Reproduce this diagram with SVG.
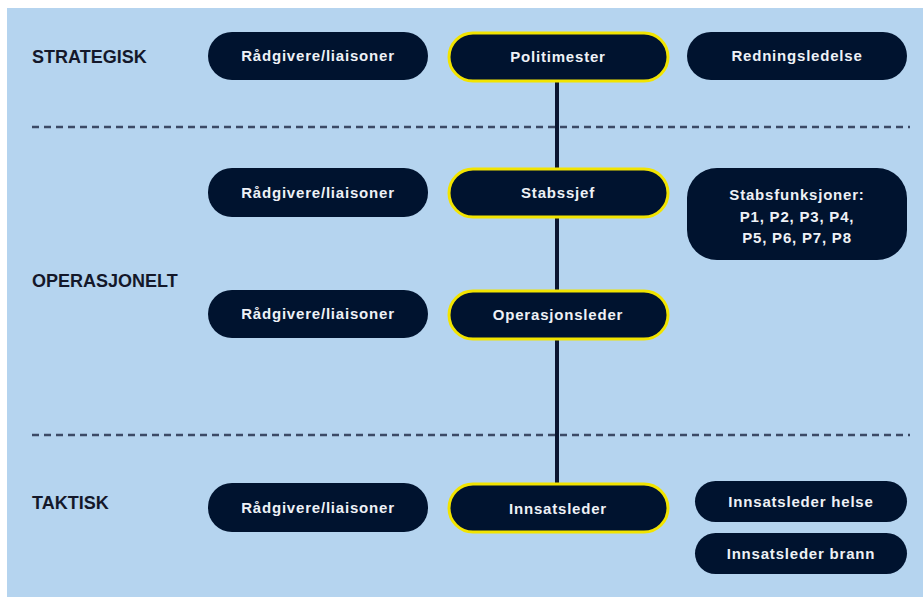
<svg xmlns="http://www.w3.org/2000/svg" width="923" height="597" viewBox="0 0 923 597">
<style>
.bg{fill:#b5d4ef}
.lvl{font-family:"Liberation Sans",Arial,sans-serif;font-weight:bold;font-size:18px;fill:#14182a}
.box{fill:#00132f}
.hl{stroke:#f2e400;stroke-width:3}
.t{font-family:"Liberation Sans",Arial,sans-serif;font-weight:bold;font-size:15px;fill:#eef1f6;text-anchor:middle;letter-spacing:0.8px}
.dash{stroke:#3c4a66;stroke-width:2.5;stroke-dasharray:7 5;fill:none}
.conn{stroke:#0a1530;stroke-width:4;fill:none}
</style>
<rect class="bg" x="7" y="8" width="916" height="589"/>
<g id="levels">
<text class="lvl" x="32" y="63">STRATEGISK</text>
<text class="lvl" x="32" y="287">OPERASJONELT</text>
<text class="lvl" x="32" y="509">TAKTISK</text>
</g>
<g id="separators">
<line class="dash" x1="32" y1="127" x2="910" y2="127"/>
<line class="dash" x1="32" y1="435" x2="910" y2="435"/>
</g>
<g id="connectors">
<line class="conn" x1="557" y1="82" x2="557" y2="484"/>
</g>
<g id="n-radgivere-strategisk">
<rect class="box" x="208" y="32" width="220" height="48" rx="24"/>
<text class="t" x="318" y="61">Rådgivere/liaisoner</text>
</g>
<g id="n-politimester">
<rect class="box hl" x="449" y="33" width="219" height="48" rx="24"/>
<text class="t" x="558" y="62">Politimester</text>
</g>
<g id="n-redningsledelse">
<rect class="box" x="687" y="32" width="220" height="48" rx="24"/>
<text class="t" x="797" y="61">Redningsledelse</text>
</g>
<g id="n-radgivere-op1">
<rect class="box" x="208" y="168" width="220" height="49" rx="24"/>
<text class="t" x="318" y="198">Rådgivere/liaisoner</text>
</g>
<g id="n-stabssjef">
<rect class="box hl" x="449" y="169" width="219" height="48" rx="24"/>
<text class="t" x="558" y="198">Stabssjef</text>
</g>
<g id="n-stabsfunksjoner">
<rect class="box" x="687" y="168" width="220" height="92" rx="30"/>
<text class="t" x="797" y="200">Stabsfunksjoner:</text>
<text class="t" x="797" y="222">P1, P2, P3, P4,</text>
<text class="t" x="797" y="243">P5, P6, P7, P8</text>
</g>
<g id="n-radgivere-op2">
<rect class="box" x="208" y="290" width="220" height="48" rx="24"/>
<text class="t" x="318" y="319">Rådgivere/liaisoner</text>
</g>
<g id="n-operasjonsleder">
<rect class="box hl" x="449" y="291" width="219" height="48" rx="24"/>
<text class="t" x="558" y="320">Operasjonsleder</text>
</g>
<g id="n-radgivere-taktisk">
<rect class="box" x="208" y="483" width="220" height="49" rx="24"/>
<text class="t" x="318" y="513">Rådgivere/liaisoner</text>
</g>
<g id="n-innsatsleder">
<rect class="box hl" x="449" y="484" width="219" height="48" rx="24"/>
<text class="t" x="558" y="514">Innsatsleder</text>
</g>
<g id="n-innsatsleder-helse">
<rect class="box" x="695" y="481" width="212" height="41" rx="20.5"/>
<text class="t" x="801" y="507">Innsatsleder helse</text>
</g>
<g id="n-innsatsleder-brann">
<rect class="box" x="695" y="533" width="212" height="41" rx="20.5"/>
<text class="t" x="801" y="559">Innsatsleder brann</text>
</g>
</svg>
